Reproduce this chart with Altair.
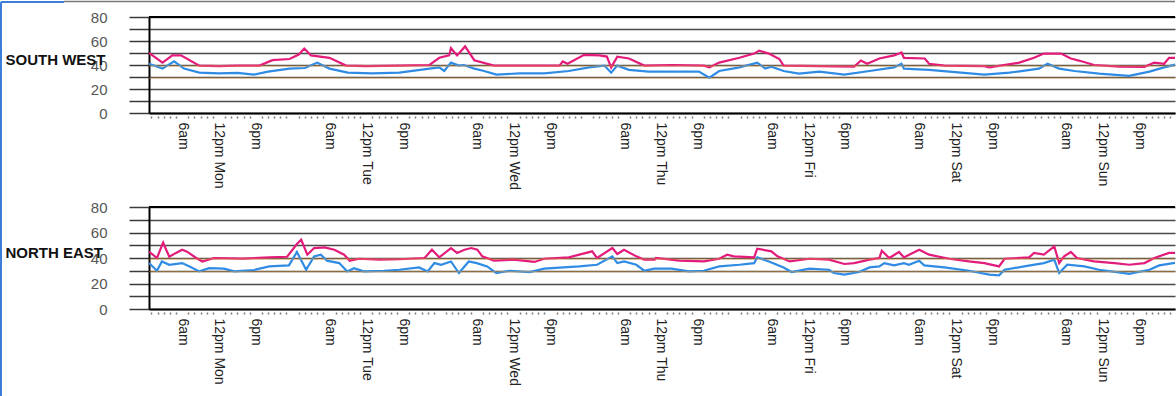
import altair as alt
import pandas as pd

FONT = "Liberation Sans"
days = ["Mon", "Tue", "Wed", "Thu", "Fri", "Sat", "Sun"]

# major x ticks (hours since Monday 00:00) and their labels
tick_hours = []
tick_labels = []
for i, d in enumerate(days):
    tick_hours += [24 * i + 6, 24 * i + 12, 24 * i + 18]
    tick_labels += ["6am", "12pm " + d, "6pm"]
minor_hours = [h for h in range(1, 168) if h % 6 != 0]

# SOUTH WEST – upper (pink) series
sw_pink_h = [0.6, 2.8, 4.4, 5.8, 8.8, 12, 15, 18.6, 20.7, 23.5, 25, 25.9, 27, 30, 32.7, 36, 41.4,
             46.3, 47.9, 49.5, 49.8, 50.8, 52.1, 53.6, 56.8, 62, 67.5, 68, 68.8, 71.5, 74, 75.2,
             75.9, 76.9, 78.8, 81.3, 86, 91, 91.9, 93.5, 96.8, 99.2, 100, 101.6, 103.3, 104, 110,
             115.5, 116.6, 117.6, 119.6, 122, 122.8, 123.2, 123.6, 127, 127.7, 130.2, 136.7, 137.5,
             142.4, 144.8, 146.4, 149.2, 150.8, 152.1, 154.6, 158.7, 162.8, 164.4, 166, 166.8, 168.4]
sw_pink_v = [50, 42, 48, 48, 39.5, 39, 39.5, 39.5, 44, 45, 48.7, 53.7, 48, 46, 39.5, 39, 39.5,
             40, 46, 48, 54, 48, 55.5, 44, 39.5, 39.5, 39.5, 43, 41, 48.5, 48, 47,
             38, 47, 45.4, 39.5, 40, 39.5, 38, 42, 46, 49.5, 52, 49.5, 45, 39.5, 39,
             38.6, 43.7, 41, 45.4, 48, 49.5, 50.4, 46, 45.4, 41, 39.5, 39, 38,
             42, 46, 49.5, 49.5, 45.4, 43.7, 40, 38.6, 38.5, 42, 41, 46, 46]
# SOUTH WEST – lower (blue) series
sw_blue_h = [0.6, 2.8, 4.7, 6.3, 8.8, 12, 15, 17.7, 20, 23.5, 26, 28, 30, 33, 37, 41.4, 46.3, 47.9,
             48.7, 49.8, 51.1, 51.9, 53.6, 55.2, 57.2, 61, 65, 69, 72.3, 74.8, 75.9, 76.9, 78.8,
             82, 86, 90.2, 91.9, 93.5, 96.8, 99.7, 101, 102, 104, 106.5, 109.8, 113.9, 118, 122,
             122.8, 123.2, 123.6, 127.7, 131, 136.7, 140.8, 145.6, 147, 148.9, 151.4, 155.4, 160.3,
             163.6, 166, 168.4]
sw_blue_v = [41, 37, 43, 37, 33.6, 33, 33.5, 32, 34.5, 37, 37.5, 42, 37, 33.6, 33, 33.6, 37, 38,
             35, 42, 39.5, 40, 37, 35, 32, 33, 33, 35, 38, 39.5, 33.6, 39.5, 36,
             34.5, 34.5, 34.5, 29.4, 35, 38, 42, 37, 38.6, 35, 32.8, 34.5, 32, 35, 38,
             40, 41, 37, 36, 34.5, 32, 33.6, 37, 41, 37, 35, 32.8, 31,
             34.5, 38, 41]

# NORTH EAST – upper (pink) series
ne_pink_h = [0.6, 1.9, 2.9, 3.9, 5, 6, 6.8, 8.3, 9.3, 11.2, 16, 20.2, 23.1, 24.7, 25.4, 26.4, 27.5,
             29.2, 30.8, 32.4, 33.3, 34.8, 38.1, 41.4, 45.5, 46.7, 47.9, 49.8, 50.8, 52, 53.1,
             54.1, 54.9, 56.8, 60, 63.4, 65, 69, 72.8, 73.6, 76.1, 76.9, 78, 80, 81.3, 83, 83.2,
             87, 91, 93.5, 94.8, 95.9, 99.2, 99.7, 102, 103, 105, 108.2, 111.4, 113.9, 115.5, 118,
             119.6, 120, 121.2, 122.8, 123.6, 126.1, 127.7, 131, 134.2, 136.7, 139.1, 140, 144,
             144.8, 146.4, 148.1, 148.9, 149.7, 150.8, 151.8, 154.6, 157.9, 160.3, 162.8, 164.4,
             166.8, 168.4]
ne_pink_v = [45, 40, 52, 41, 44, 46.5, 45, 40, 37.3, 40, 39.5, 40.5, 41, 51, 54.3, 42.6, 47.8,
             48.3, 46.5, 42.6, 37.9, 39.4, 38.7, 39, 40, 46.5, 40.5, 47.8, 44, 46.5, 47.8,
             46.5, 41.3, 37.9, 38.7, 36.9, 39.4, 40.5, 45.2, 40, 47.8, 43.1, 46.5, 41.3, 38.7, 38.7, 40,
             37.9, 37.3, 39.4, 42.6, 41.3, 40.5, 47.3, 45.2, 41.3, 37.3, 39.4, 38.7, 35.3, 36, 38.7,
             40, 45.7, 40, 44.7, 40.5, 46.5, 42.6, 39.4, 37.3, 36, 33.4, 39.4, 40.5,
             44, 42.6, 49.1, 36, 41.3, 44.7, 40, 37.3, 36, 34.7, 36, 40,
             44, 44]
# NORTH EAST – lower (blue) series
ne_blue_h = [0.6, 1.9, 2.7, 3.9, 6, 7.2, 8.8, 10.4, 12.8, 14.5, 17.7, 20.2, 23.4, 24.7, 26.2, 27.5,
             28.6, 29.6, 31.6, 32.4, 32.9, 34, 35.6, 38.9, 41.4, 44.6, 46, 47.1, 48.2, 49.8, 51.1,
             52.7, 54, 55.7, 57.2, 59.3, 62.6, 65, 70.7, 73.6, 76.1, 76.9, 78, 80, 81.3, 82.9, 85.7,
             88.6, 91, 93.5, 96.8, 99.2, 99.7, 101.6, 104, 105.3, 108.2, 111.4, 112.2, 113.9, 116.3,
             118, 119.6, 120.4, 122, 123.6, 124.4, 126.1, 126.9, 130.2, 134.2, 137.5, 139.1, 140,
             143.2, 146.4, 148.1, 148.9, 150.2, 153, 155.4, 159.5, 160.3, 163.6, 165.2, 168.4]
ne_blue_v = [36, 30, 37.3, 34.7, 36, 33.4, 29.5, 32, 31.6, 29.5, 30.6, 33.4, 34.2, 44.7, 30.8, 41.3,
             42.6, 37.9, 36, 32, 29.5, 32, 29.5, 30, 30.8, 32.6, 29.5, 36, 34.7, 37.3, 28.2,
             37.3, 36, 33.4, 28.2, 30, 29, 31.6, 33.4, 34.7, 41.3, 36, 37.3, 34.7, 30, 31.6, 31.6,
             29.5, 30, 33.4, 34.7, 36, 40.5, 37.3, 32.6, 29, 31.6, 30.8, 28.2, 26.9, 29,
             32.6, 33.4, 36, 34.2, 36, 34.7, 37.9, 34.2, 32.6, 30, 26.9, 26.4, 30.8,
             33.4, 36, 38.7, 28.2, 34.7, 33.4, 30.8, 28.2, 27.5, 30.8, 34.2, 36.6]

series_names = ["upper", "lower"]
series_colors = ["#e31b7b", "#2f8be3"]
threshold_levels = [30, 40]
y_top = [80]

W = 1026
X_DOMAIN = [0.6, 0.6 + W / 6.1375]


def frame(h_up, v_up, h_lo, v_lo):
    a = pd.DataFrame({"hour": h_up, "value": v_up, "series": "upper"})
    b = pd.DataFrame({"hour": h_lo, "value": v_lo, "series": "lower"})
    return pd.concat([a, b], ignore_index=True)


label_expr = " : ".join(
    f"datum.value == {h} ? '{l}'" for h, l in zip(tick_hours, tick_labels)
) + " : ''"


def panel(df, title, height, with_border=False):
    xs = alt.Scale(domain=X_DOMAIN, nice=False, zero=False)
    ys = alt.Scale(domain=[0, 80], nice=False)
    y_axis = alt.Axis(
        values=list(range(0, 81, 10)),
        labelExpr="datum.value % 20 == 0 ? datum.label : ''",
        labelOverlap=False,
        tickSize=20, tickColor="#3a3a3a", tickWidth=1.5,
        grid=True, gridColor="#4a4a4a", gridWidth=1.5,
        domainColor="#000", domainWidth=2,
        labelFont=FONT, labelFontSize=15, labelColor="#555", labelPadding=22,
        title=title, titleAngle=0, titleAlign="left", titleBaseline="middle",
        titleX=-144, titleY=round(height * 0.44),
        titleFont=FONT, titleFontSize=15, titleFontWeight="bold", titleColor="#111",
    )
    x_axis = alt.Axis(
        values=tick_hours, labelExpr=label_expr, labelAngle=90, ticks=False, grid=False,
        domainColor="#000", domainWidth=2, labelPadding=9, labelOverlap=False,
        labelFont=FONT, labelFontSize=14, labelColor="#222", title=None, orient="bottom",
    )
    dot_axis = alt.Axis(
        values=minor_hours, labels=False, ticks=True, tickSize=2, tickWidth=1.5,
        tickColor="#777", domain=False, grid=False, offset=3, title=None, orient="bottom",
    )
    lines = alt.Chart(df).mark_line(strokeWidth=2.2, clip=True).encode(
        x=alt.X("hour:Q", scale=xs, axis=x_axis),
        y=alt.Y("value:Q", scale=ys, axis=y_axis),
        color=alt.Color("series:N", scale=alt.Scale(domain=series_names, range=series_colors),
                        legend=None),
        detail="series:N",
    )
    dots = alt.Chart(pd.DataFrame({"hour": minor_hours})).mark_point(opacity=0).encode(
        x=alt.X("hour:Q", scale=xs, axis=dot_axis),
    )
    thr = alt.Chart(pd.DataFrame({"level": threshold_levels})).mark_rule(
        color="#f0a030", strokeWidth=1, opacity=0.55, yOffset=1
    ).encode(y=alt.Y("level:Q", scale=ys, axis=y_axis))
    top_line = alt.Chart(pd.DataFrame({"level": y_top})).mark_rule(
        color="#000", strokeWidth=2
    ).encode(y=alt.Y("level:Q", scale=ys, axis=y_axis))
    layers = [lines, thr, top_line, dots]
    if with_border:
        left = alt.Chart(pd.DataFrame({"a": [0]})).mark_rule(color="#3b7dd8", strokeWidth=2).encode(
            x=alt.value(-148), y=alt.value(-15), y2=alt.value(379))
        top_gray = alt.Chart(pd.DataFrame({"a": [0]})).mark_rule(color="#777", strokeWidth=1.5).encode(
            x=alt.value(-85), x2=alt.value(W), y=alt.value(-15.5))
        top_blue = alt.Chart(pd.DataFrame({"a": [0]})).mark_rule(color="#3b7dd8", strokeWidth=2).encode(
            x=alt.value(-148), x2=alt.value(-85), y=alt.value(-15))
        layers += [left, top_gray, top_blue]
    return alt.layer(*layers).resolve_axis(x="independent").properties(width=W, height=height)


top = panel(frame(sw_pink_h, sw_pink_v, sw_blue_h, sw_blue_v), "SOUTH WEST", 96, True)
bottom = panel(frame(ne_pink_h, ne_pink_v, ne_blue_h, ne_blue_v), "NORTH EAST", 102)

chart = alt.vconcat(top, bottom, spacing=94, bounds="flush").properties(
    padding={"left": 0, "top": 0, "right": 0, "bottom": 0},
    background="white",
).configure_view(stroke=None)

chart.save("out.html", embed_options={"renderer": "svg", "actions": False})
